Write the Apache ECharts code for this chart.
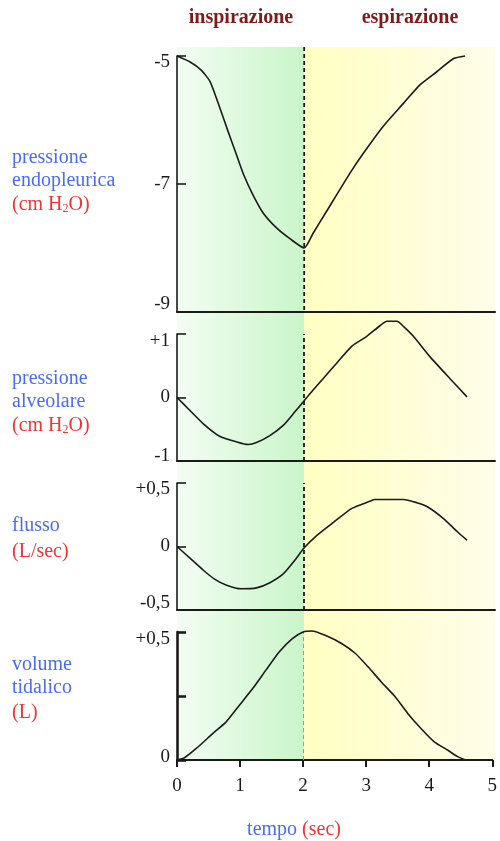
<!DOCTYPE html>
<html><head><meta charset="utf-8">
<script src="https://cdn.jsdelivr.net/npm/echarts@6.0.0/dist/echarts.min.js"></script>
<style>html,body{margin:0;padding:0;background:#fff}#c{width:500px;height:841px}</style>
</head><body><div id="c"></div>
<script>
// ---- data (time in sec) ----
const timeTicks = [0, 1, 2, 3, 4, 5];
const phaseSplit = 2;

const endoT = [0,0.2,0.38,0.52,0.67,0.8,0.92,1.05,1.2,1.36,1.57,1.77,2,2.14,2.35,2.72,2.93,3.24,3.56,3.82,4.08,4.35,4.53];
const endoP = [-5,-5.09,-5.22,-5.4,-5.8,-6.17,-6.5,-6.86,-7.18,-7.46,-7.69,-7.85,-8,-7.77,-7.43,-6.83,-6.52,-6.1,-5.74,-5.45,-5.25,-5.04,-5];
const endoTicks = [-9, -7, -5];
const endoTickLabels = ['-9', '-7', '-5'];

const alvT = [0,0.2,0.41,0.67,0.94,1.12,1.25,1.46,1.67,1.85,2,2.09,2.3,2.51,2.75,2.98,3.19,3.3,3.46,3.56,3.72,3.98,4.29,4.56];
const alvP = [0,-0.2,-0.41,-0.61,-0.7,-0.74,-0.71,-0.6,-0.44,-0.23,-0.05,0.06,0.3,0.54,0.81,0.96,1.13,1.2,1.2,1.12,0.96,0.64,0.3,0.01];
const alvTicks = [-1, 0, 1];
const alvTickLabels = ['-1', '0', '+1'];

const flowT = [0,0.2,0.41,0.59,0.78,1.01,1.25,1.46,1.67,1.85,2,2.2,2.46,2.75,3.03,3.11,3.56,3.77,3.93,4.19,4.4,4.56];
const flowV = [0,-0.09,-0.185,-0.257,-0.305,-0.333,-0.326,-0.285,-0.216,-0.11,-0.01,0.088,0.19,0.3,0.356,0.37,0.37,0.345,0.315,0.22,0.12,0.05];
const flowTicks = [-0.5, 0, 0.5];
const flowTickLabels = ['-0,5', '0', '+0,5'];

const volT = [0,0.12,0.31,0.57,0.78,0.99,1.2,1.41,1.62,1.83,2,2.14,2.35,2.61,2.83,3.03,3.24,3.46,3.66,3.87,4.08,4.29,4.45,4.58];
const volV = [0,0.009,0.046,0.104,0.149,0.214,0.279,0.351,0.422,0.474,0.5,0.504,0.487,0.455,0.416,0.364,0.305,0.247,0.182,0.123,0.071,0.039,0.013,0];
const volTicks = [0, 0.25, 0.5];
const volTickLabels = ['0', '', '+0,5'];

// ---- styles ----
const SERIF = '"Liberation Serif","DejaVu Serif",serif';
const BLUE = '#4a6cf4';
const RED = '#f03434';
const DARKRED = '#7e1a1a';
const INK = '#1a1a1a';

const zip = (a, b) => a.map((v, i) => [v, b[i]]);

const chart = echarts.init(document.getElementById('c'), null, {renderer: 'canvas'});

const grids = [
  {left: 177, width: 318, top: 56, height: 256},
  {left: 177, width: 318, top: 334, height: 127},
  {left: 177, width: 318, top: 483, height: 127},
  {left: 177, width: 318, top: 632, height: 128}
];

function yAx(gi, ticks, labels, shiftTop, shiftBot, lw) {
  const min = ticks[0], max = ticks[ticks.length - 1];
  return {
    type: 'value', gridIndex: gi, min: min, max: max, interval: ticks[1] - ticks[0],
    axisLine: {show: true, onZero: false, lineStyle: {color: INK, width: lw}},
    axisTick: {show: true, inside: true, length: 9, lineStyle: {color: INK, width: lw}},
    splitLine: {show: false},
    axisLabel: {
      margin: 7, color: INK, fontFamily: SERIF, fontSize: 19,
      formatter: function (v) {
        const idx = ticks.findIndex(t => Math.abs(t - v) < 1e-9);
        const s = idx >= 0 ? labels[idx] : '';
        if (s === '') return '';
        if (idx === ticks.length - 1) return '{t|' + s + '}';
        if (idx === 0) return '{b|' + s + '}';
        return '{m|' + s + '}';
      },
      rich: {
        t: {fontFamily: SERIF, fontSize: 19, color: INK, padding: [shiftTop * 2, 0, 0, 0]},
        b: {fontFamily: SERIF, fontSize: 19, color: INK, padding: [0, 0, shiftBot * 2, 0]},
        m: {fontFamily: SERIF, fontSize: 19, color: INK}
      }
    }
  };
}

function xAx(gi, showLabels) {
  return {
    type: 'value', gridIndex: gi, min: timeTicks[0], max: timeTicks[timeTicks.length - 1],
    interval: timeTicks[1] - timeTicks[0],
    axisLine: {show: true, onZero: false, lineStyle: {color: INK, width: 2}},
    axisTick: {show: showLabels, inside: false, length: 7, lineStyle: {color: INK, width: 2}},
    splitLine: {show: false},
    axisLabel: {show: showLabels, margin: 17, color: INK, fontFamily: SERIF, fontSize: 19}
  };
}

const lineStyle = {color: INK, width: 1.6};
const dashed = {type: [4, 3], color: INK, width: 1.8};

function ser(gi, t, v, mark) {
  const s = {
    type: 'line', xAxisIndex: gi, yAxisIndex: gi, data: zip(t, v),
    symbol: 'none', smooth: 0.2, clip: false, lineStyle: lineStyle, silent: true, z: 5
  };
  if (mark) {
    s.markLine = {silent: true, symbol: 'none', label: {show: false}, lineStyle: mark,
      data: [{xAxis: phaseSplit}], animation: false};
  }
  return s;
}

const option = {
  animation: false,
  backgroundColor: '#ffffff',
  grid: grids,
  xAxis: [xAx(0, false), xAx(1, false), xAx(2, false), xAx(3, true)],
  yAxis: [
    yAx(0, endoTicks, endoTickLabels, 6, 8, 1.6),
    yAx(1, alvTicks, alvTickLabels, 7, 5, 1.6),
    yAx(2, flowTicks, flowTickLabels, 6, 7, 1.6),
    yAx(3, volTicks, volTickLabels, 7, 3, 2.6)
  ],
  series: [
    ser(0, endoT, endoP, null),
    ser(1, alvT, alvP, dashed),
    ser(2, flowT, flowV, dashed),
    ser(3, volT, volV, {type: [4, 3], color: '#9a9a9a', width: 1})
  ]
};
chart.setOption(option);

// ---- decorations derived from the axes ----
const px = v => chart.convertToPixel({xAxisIndex: 0}, v);
const py = (i, v) => chart.convertToPixel({yAxisIndex: i}, v);
const xL = px(timeTicks[0]), xM = px(phaseSplit), xR = px(timeTicks[timeTicks.length - 1]);
const yTop = py(0, -4.86), yBot = py(3, 0), y1Bot = py(0, -9);

function txt(x, y, text, rich, align) {
  return {type: 'text', x: x, y: y, silent: true, z: 10,
    style: {text: text, rich: rich, align: align || 'left', verticalAlign: 'middle'}};
}
const baseRich = {
  b: {fontFamily: SERIF, fontSize: 20, fill: BLUE},
  r: {fontFamily: SERIF, fontSize: 20, fill: RED},
  s: {fontFamily: SERIF, fontSize: 12, fill: RED, verticalAlign: 'bottom', lineHeight: 14},
  h: {fontFamily: SERIF, fontSize: 20, fill: DARKRED, fontWeight: 'bold'}
};

chart.setOption({
  graphic: [
    {type: 'rect', silent: true, z: -10,
      shape: {x: xL, y: yTop, width: xM - xL, height: yBot - yTop},
      style: {fill: new echarts.graphic.LinearGradient(0, 0, 1, 0, [
        {offset: 0, color: '#f3fdf3'}, {offset: 1, color: '#c9f5c9'}])}},
    {type: 'rect', silent: true, z: -10,
      shape: {x: xM, y: yTop, width: xR - xM, height: yBot - yTop},
      style: {fill: new echarts.graphic.LinearGradient(0, 0, 1, 0, [
        {offset: 0, color: '#ffffc2'}, {offset: 1, color: '#fffde9'}])}},
    {type: 'line', silent: true, z: 4,
      shape: {x1: xM, y1: yTop, x2: xM, y2: y1Bot},
      style: {stroke: INK, lineWidth: 1.8, lineDash: [4, 3]}},
    txt(241, 18, '{h|inspirazione}', baseRich, 'center'),
    txt(410, 18, '{h|espirazione}', baseRich, 'center'),
    txt(12, 158, '{b|pressione}', baseRich),
    txt(12, 181, '{b|endopleurica}', baseRich),
    txt(12, 205, '{r|(cm H}{s|2}{r|O)}', baseRich),
    txt(12, 379, '{b|pressione}', baseRich),
    txt(12, 402, '{b|alveolare}', baseRich),
    txt(12, 426, '{r|(cm H}{s|2}{r|O)}', baseRich),
    txt(12, 526, '{b|flusso}', baseRich),
    txt(12, 552, '{r|(L/sec)}', baseRich),
    txt(12, 665, '{b|volume}', baseRich),
    txt(12, 688, '{b|tidalico}', baseRich),
    txt(12, 713, '{r|(L)}', baseRich),
    txt(294, 830, '{b|tempo }{r|(sec)}', baseRich, 'center')
  ]
});
</script></body></html>
